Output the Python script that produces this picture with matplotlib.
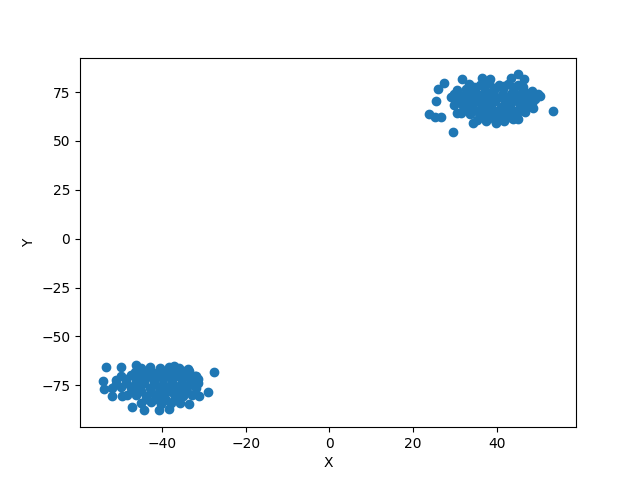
import numpy as np
import matplotlib
matplotlib.use('Agg')
import matplotlib.pyplot as plt

# upper-right cluster (edge points first, then the dense core)
upper_x = [53.6, 29.6, 23.8, 25.2, 26.6, 25.4, 26.0, 27.4, 31.6, 36.5,
           38.4, 43.4, 45.2, 46.6, 50.3, 48.6, 45.0, 39.8, 34.3, 30.6,
           33.5, 36.0, 38.2, 40.5, 42.8, 45.0,
           30.5, 32.6, 34.8, 37.1, 39.3, 41.6, 43.9, 46.3, 48.5,
           29.0, 31.3, 33.5, 35.8, 38.0, 40.2, 42.5, 44.7, 47.0, 49.3,
           29.8, 32.0, 34.2, 36.5, 38.7, 41.0, 43.2, 45.5, 47.6,
           31.4, 33.7, 35.9, 38.1, 40.4, 42.6, 44.8, 46.9,
           35.2, 37.4, 39.6, 41.8, 44.0,
           34.6, 37.0, 39.4, 41.7, 44.1, 46.4,
           29.9, 32.2, 34.4, 36.7, 38.9, 41.2, 43.4, 45.6, 47.9, 49.8,
           30.7, 32.9, 35.1, 37.3, 39.6, 41.9, 44.0, 46.2, 48.4,
           32.6, 34.8, 37.0, 39.2, 41.5, 43.7, 45.9,
           36.3, 38.5, 40.8, 43.0]
upper_y = [65.2, 54.6, 64.0, 62.4, 62.1, 70.4, 76.4, 79.8, 81.5, 82.0,
           81.8, 82.3, 84.0, 81.5, 72.9, 66.9, 61.0, 59.2, 59.2, 64.4,
           79.2, 78.6, 79.5, 78.8, 79.3, 78.5,
           75.8, 76.4, 75.5, 76.2, 75.9, 76.6, 75.7, 76.1, 75.4,
           72.3, 71.8, 72.5, 71.6, 72.2, 71.9, 72.6, 71.7, 72.1, 71.5,
           68.1, 67.6, 68.4, 67.8, 68.2, 67.5, 68.3, 67.9, 68.0,
           64.2, 63.8, 64.5, 63.6, 64.1, 63.9, 64.4, 64.6,
           60.6, 60.2, 60.9, 60.4, 61.0,
           77.6, 77.9, 77.3, 78.0, 77.5, 77.8,
           74.0, 73.7, 74.3, 73.9, 74.2, 73.6, 74.1, 73.8, 74.4, 73.9,
           70.1, 69.8, 70.3, 69.7, 70.2, 69.9, 70.4, 70.0, 69.6,
           66.0, 65.7, 66.3, 65.9, 66.2, 65.6, 66.1,
           62.3, 62.0, 62.5, 62.1]

# lower-left cluster
lower_x = [-27.7, -53.4, -54.3, -54.0, -52.0, -50.0, -46.3, -37.1, -33.5, -31.9,
           -29.1, -31.1, -33.5, -38.3, -40.7, -44.3, -47.2, -49.6,
           -46.5, -44.0, -41.8, -39.5, -37.3, -35.0,
           -51.0, -48.7, -46.4, -44.2, -42.0, -39.8, -37.6, -35.4, -33.2, -31.5,
           -52.0, -49.8, -47.5, -45.3, -43.0, -40.8, -38.6, -36.4, -34.2, -32.0,
           -48.5, -46.2, -44.0, -41.7, -39.5, -37.2, -35.0, -32.8,
           -45.0, -42.6, -40.3, -38.0, -35.7,
           -45.2, -42.9, -40.6, -38.4, -36.1, -33.9,
           -50.0, -47.6, -45.3, -43.1, -40.9, -38.7, -36.5, -34.3, -32.2,
           -51.1, -48.8, -46.6, -44.4, -42.1, -39.9, -37.7, -35.5, -33.3, -31.4,
           -47.3, -45.1, -42.8, -40.6, -38.3, -36.1, -34.0,
           -43.8, -41.5, -39.2, -36.9]
lower_y = [-68.0, -65.7, -72.6, -76.9, -80.3, -65.7, -64.5, -64.9, -67.4, -70.0,
           -78.6, -80.3, -84.6, -87.2, -87.8, -87.5, -86.3, -80.3,
           -68.2, -67.6, -68.5, -67.9, -68.3, -67.7,
           -72.1, -71.7, -72.4, -71.8, -72.3, -71.6, -72.5, -71.9, -72.2, -71.8,
           -76.2, -75.8, -76.5, -75.9, -76.3, -75.7, -76.4, -76.0, -75.6, -76.1,
           -80.1, -79.7, -80.4, -79.8, -80.2, -79.6, -80.3, -79.9,
           -84.1, -83.7, -84.4, -83.8, -84.2,
           -66.0, -65.6, -66.3, -65.8, -66.1, -66.4,
           -70.0, -69.7, -70.3, -69.8, -70.1, -69.6, -70.2, -69.9, -70.4,
           -74.1, -73.8, -74.3, -73.7, -74.0, -74.4, -73.9, -74.2, -73.6, -74.0,
           -78.0, -77.7, -78.3, -77.9, -78.1, -77.6, -78.2,
           -82.1, -81.8, -82.3, -81.9]

x = np.array(upper_x + lower_x)
y = np.array(upper_y + lower_y)

fig, ax = plt.subplots(figsize=(6.4, 4.8), dpi=100)
ax.scatter(x, y)
ax.set_xlabel('X')
ax.set_ylabel('Y')
fig.savefig('out.png', dpi=100)
